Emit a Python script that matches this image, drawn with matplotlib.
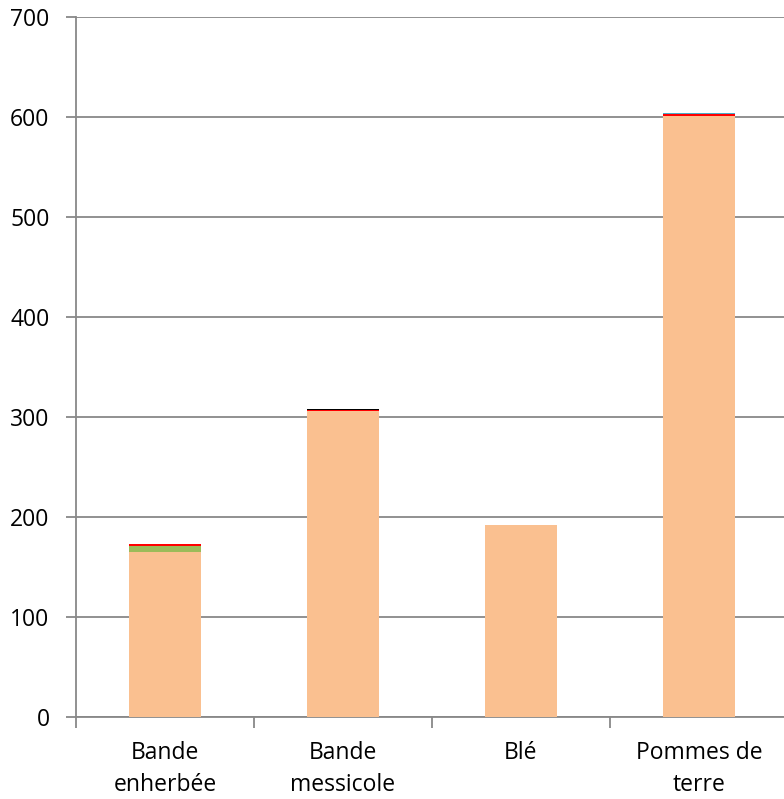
import matplotlib
matplotlib.use("Agg")
import matplotlib.pyplot as plt
import numpy as np

categories = ["Bande\nenherbée", "Bande\nmessicole", "Blé", "Pommes de\nterre"]
s_orange = [165, 306, 192, 601]
s_green = [6.3, 0, 0, 0]
s_red = [1.7, 1.3, 0, 1.7]
s_black = [0, 0.6, 0, 0]
s_blue = [0, 0, 0, 1.3]
yticks = [0, 100, 200, 300, 400, 500, 600, 700]

plt.rcParams['font.family'] = ['Open Sans', 'DejaVu Sans']
W, H = 784, 799
fig = plt.figure(figsize=(W/100, H/100), dpi=100)
ax = fig.add_axes([76/W, (H-717)/H, 712/W, 700/H])

x = np.arange(len(categories))
series = [(s_orange, "#FAC090"), (s_green, "#9BBB59"), (s_red, "#FF0000"),
          (s_black, "#000000"), (s_blue, "#4BACC6")]
bottom = np.zeros(len(categories))
for vals, col in series:
    v = np.array(vals, dtype=float)
    ax.bar(x, v, width=0.405, bottom=bottom, color=col, zorder=3, linewidth=0)
    bottom += v

fs = 16.5
ax.set_xlim(-0.5, len(categories) - 0.5)
ax.set_ylim(0, 700)
ax.set_yticks(yticks)
ax.set_yticklabels([str(t) for t in yticks], fontsize=fs)
ax.yaxis.grid(True, color="#888888", linewidth=1.3, zorder=0)
ax.set_axisbelow(True)
ax.set_xticks(x)
ax.set_xticklabels(categories, fontsize=fs, linespacing=1.45)
ax.tick_params(axis='x', length=0, pad=17)
ax.set_xticks(np.arange(len(categories)+1) - 0.5, minor=True)
ax.tick_params(axis='x', which='minor', length=8, width=1.3, color="#888888", direction='out')
ax.tick_params(axis='y', length=7, width=1.3, color="#888888", pad=12)
for s in ['top', 'right']:
    ax.spines[s].set_visible(False)
for s in ['left', 'bottom']:
    ax.spines[s].set_color("#888888")
    ax.spines[s].set_linewidth(1.3)

fig.savefig("out.png", dpi=100)
